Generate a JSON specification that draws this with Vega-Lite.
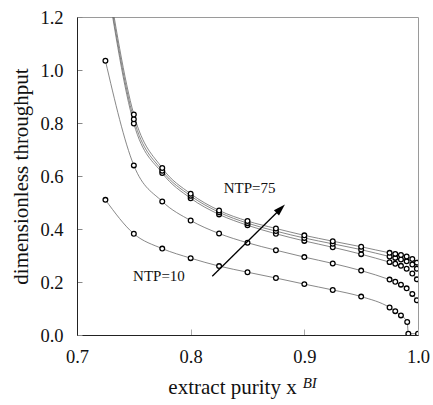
{
  "$schema": "https://vega.github.io/schema/vega-lite/v6.json",
  "autosize": {"type": "none"},
  "width": 341,
  "height": 318,
  "padding": {"left": 77, "top": 17, "right": 15, "bottom": 70},
  "background": "white",
  "config": {
    "view": {"stroke": "#9a9a9a", "strokeWidth": 1},
    "font": "Liberation Serif"
  },
  "datasets": {
    "curves": [
      {"ntp": 10, "x": 0.725, "y": 0.510},
      {"ntp": 10, "x": 0.75, "y": 0.382},
      {"ntp": 10, "x": 0.775, "y": 0.326},
      {"ntp": 10, "x": 0.8, "y": 0.290},
      {"ntp": 10, "x": 0.825, "y": 0.260},
      {"ntp": 10, "x": 0.85, "y": 0.237},
      {"ntp": 10, "x": 0.875, "y": 0.215},
      {"ntp": 10, "x": 0.9, "y": 0.192},
      {"ntp": 10, "x": 0.925, "y": 0.170},
      {"ntp": 10, "x": 0.95, "y": 0.145},
      {"ntp": 10, "x": 0.975, "y": 0.104},
      {"ntp": 10, "x": 0.98, "y": 0.090},
      {"ntp": 10, "x": 0.985, "y": 0.074},
      {"ntp": 10, "x": 0.9905, "y": 0.049},
      {"ntp": 10, "x": 0.9915, "y": 0.005},
      {"ntp": 10, "x": 1.0, "y": 0.005},
      {"ntp": 20, "x": 0.725, "y": 1.035},
      {"ntp": 20, "x": 0.75, "y": 0.640},
      {"ntp": 20, "x": 0.775, "y": 0.504},
      {"ntp": 20, "x": 0.8, "y": 0.432},
      {"ntp": 20, "x": 0.825, "y": 0.383},
      {"ntp": 20, "x": 0.85, "y": 0.348},
      {"ntp": 20, "x": 0.875, "y": 0.320},
      {"ntp": 20, "x": 0.9, "y": 0.294},
      {"ntp": 20, "x": 0.925, "y": 0.270},
      {"ntp": 20, "x": 0.95, "y": 0.243},
      {"ntp": 20, "x": 0.975, "y": 0.209},
      {"ntp": 20, "x": 0.98, "y": 0.201},
      {"ntp": 20, "x": 0.985, "y": 0.190},
      {"ntp": 20, "x": 0.99, "y": 0.176},
      {"ntp": 20, "x": 0.995, "y": 0.155},
      {"ntp": 20, "x": 0.999, "y": 0.131},
      {"ntp": 30, "x": 0.725, "y": 1.37},
      {"ntp": 30, "x": 0.75, "y": 0.798},
      {"ntp": 30, "x": 0.775, "y": 0.611},
      {"ntp": 30, "x": 0.8, "y": 0.516},
      {"ntp": 30, "x": 0.825, "y": 0.455},
      {"ntp": 30, "x": 0.85, "y": 0.414},
      {"ntp": 30, "x": 0.875, "y": 0.382},
      {"ntp": 30, "x": 0.9, "y": 0.355},
      {"ntp": 30, "x": 0.925, "y": 0.331},
      {"ntp": 30, "x": 0.95, "y": 0.305},
      {"ntp": 30, "x": 0.975, "y": 0.275},
      {"ntp": 30, "x": 0.98, "y": 0.269},
      {"ntp": 30, "x": 0.985, "y": 0.261},
      {"ntp": 30, "x": 0.99, "y": 0.250},
      {"ntp": 30, "x": 0.995, "y": 0.232},
      {"ntp": 30, "x": 0.999, "y": 0.210},
      {"ntp": 50, "x": 0.725, "y": 1.38},
      {"ntp": 50, "x": 0.75, "y": 0.814},
      {"ntp": 50, "x": 0.775, "y": 0.620},
      {"ntp": 50, "x": 0.8, "y": 0.525},
      {"ntp": 50, "x": 0.825, "y": 0.463},
      {"ntp": 50, "x": 0.85, "y": 0.422},
      {"ntp": 50, "x": 0.875, "y": 0.392},
      {"ntp": 50, "x": 0.9, "y": 0.366},
      {"ntp": 50, "x": 0.925, "y": 0.344},
      {"ntp": 50, "x": 0.95, "y": 0.322},
      {"ntp": 50, "x": 0.975, "y": 0.296},
      {"ntp": 50, "x": 0.98, "y": 0.291},
      {"ntp": 50, "x": 0.985, "y": 0.285},
      {"ntp": 50, "x": 0.99, "y": 0.278},
      {"ntp": 50, "x": 0.995, "y": 0.266},
      {"ntp": 50, "x": 0.999, "y": 0.250},
      {"ntp": 75, "x": 0.725, "y": 1.40},
      {"ntp": 75, "x": 0.75, "y": 0.832},
      {"ntp": 75, "x": 0.775, "y": 0.630},
      {"ntp": 75, "x": 0.8, "y": 0.533},
      {"ntp": 75, "x": 0.825, "y": 0.470},
      {"ntp": 75, "x": 0.85, "y": 0.430},
      {"ntp": 75, "x": 0.875, "y": 0.402},
      {"ntp": 75, "x": 0.9, "y": 0.376},
      {"ntp": 75, "x": 0.925, "y": 0.354},
      {"ntp": 75, "x": 0.95, "y": 0.333},
      {"ntp": 75, "x": 0.975, "y": 0.310},
      {"ntp": 75, "x": 0.98, "y": 0.306},
      {"ntp": 75, "x": 0.985, "y": 0.302},
      {"ntp": 75, "x": 0.99, "y": 0.296},
      {"ntp": 75, "x": 0.995, "y": 0.287},
      {"ntp": 75, "x": 0.999, "y": 0.273}
    ],
    "arrow": [
      {"x": 0.819, "y": 0.222, "x2": 0.8792, "y2": 0.4767}
    ],
    "labels": [
      {"x": 0.8518, "y": 0.554, "text": "NTP=75"},
      {"x": 0.7721, "y": 0.222, "text": "NTP=10"}
    ],
    "sup": [
      {"x": 0.8985, "y": -0.201, "text": "BI"}
    ]
  },
  "layer": [
    {
      "data": {"name": "curves"},
      "mark": {"type": "line", "interpolate": "monotone", "clip": true, "color": "#6a6a6a", "strokeWidth": 0.8},
      "encoding": {
        "x": {
          "field": "x", "type": "quantitative",
          "scale": {"domain": [0.7, 1.0], "nice": false, "zero": false},
          "axis": {
            "values": [0.7, 0.8, 0.9, 1.0], "format": ".1f", "grid": false,
            "domainColor": "#222", "domainWidth": 1,
            "tickColor": "#aaaaaa", "tickSize": -6, "tickWidth": 1,
            "labelFont": "Liberation Serif", "labelFontSize": 18.5, "labelColor": "#111",
            "labelPadding": 18, "labelFlush": false,
            "title": "extract purity x",
            "titleFont": "Liberation Serif", "titleFontSize": 21, "titleFontWeight": "normal", "titleColor": "#111",
            "titleX": 155, "titleY": 58, "titleBaseline": "alphabetic", "titleAlign": "center"
          }
        },
        "y": {
          "field": "y", "type": "quantitative",
          "scale": {"domain": [0, 1.2], "nice": false, "zero": false},
          "axis": {
            "values": [0, 0.2, 0.4, 0.6, 0.8, 1.0, 1.2], "format": ".1f", "grid": false,
            "domainColor": "#222", "domainWidth": 1,
            "tickColor": "#888888", "tickSize": -5, "tickWidth": 1,
            "labelFont": "Liberation Serif", "labelFontSize": 18.5, "labelColor": "#111",
            "labelPadding": 19, "labelFlush": false, "labelBaseline": "middle",
            "title": "dimensionless throughput",
            "titleFont": "Liberation Serif", "titleFontSize": 21, "titleFontWeight": "normal", "titleColor": "#111",
            "titleAngle": -90, "titleX": -50, "titleY": 159, "titleBaseline": "alphabetic", "titleAlign": "center"
          }
        },
        "detail": {"field": "ntp", "type": "nominal"}
      }
    },
    {
      "data": {"name": "curves"},
      "mark": {"type": "point", "shape": "circle", "clip": true, "filled": true, "fill": "white", "stroke": "black", "strokeWidth": 1.3, "size": 22, "opacity": 1},
      "encoding": {
        "x": {"field": "x", "type": "quantitative"},
        "y": {"field": "y", "type": "quantitative"}
      }
    },
    {
      "data": {"name": "arrow"},
      "mark": {"type": "rule", "color": "black", "strokeWidth": 1.3},
      "encoding": {
        "x": {"field": "x", "type": "quantitative"},
        "y": {"field": "y", "type": "quantitative"},
        "x2": {"field": "x2"},
        "y2": {"field": "y2"}
      }
    },
    {
      "data": {"name": "arrow"},
      "mark": {"type": "point", "shape": "M0,-1L-0.6,1L0.6,1Z", "filled": true, "color": "black", "size": 144, "angle": 45, "opacity": 1, "strokeWidth": 0},
      "encoding": {
        "x": {"field": "x2", "type": "quantitative"},
        "y": {"field": "y2", "type": "quantitative"}
      }
    },
    {
      "data": {"name": "labels"},
      "mark": {"type": "text", "font": "Liberation Serif", "fontSize": 15, "color": "#111", "align": "center", "baseline": "middle"},
      "encoding": {
        "x": {"field": "x", "type": "quantitative"},
        "y": {"field": "y", "type": "quantitative"},
        "text": {"field": "text"}
      }
    },
    {
      "data": {"name": "sup"},
      "mark": {"type": "text", "font": "Liberation Serif", "fontSize": 15, "fontStyle": "italic", "color": "#111", "align": "left", "baseline": "alphabetic", "clip": false},
      "encoding": {
        "x": {"field": "x", "type": "quantitative"},
        "y": {"field": "y", "type": "quantitative"},
        "text": {"field": "text"}
      }
    }
  ]
}
